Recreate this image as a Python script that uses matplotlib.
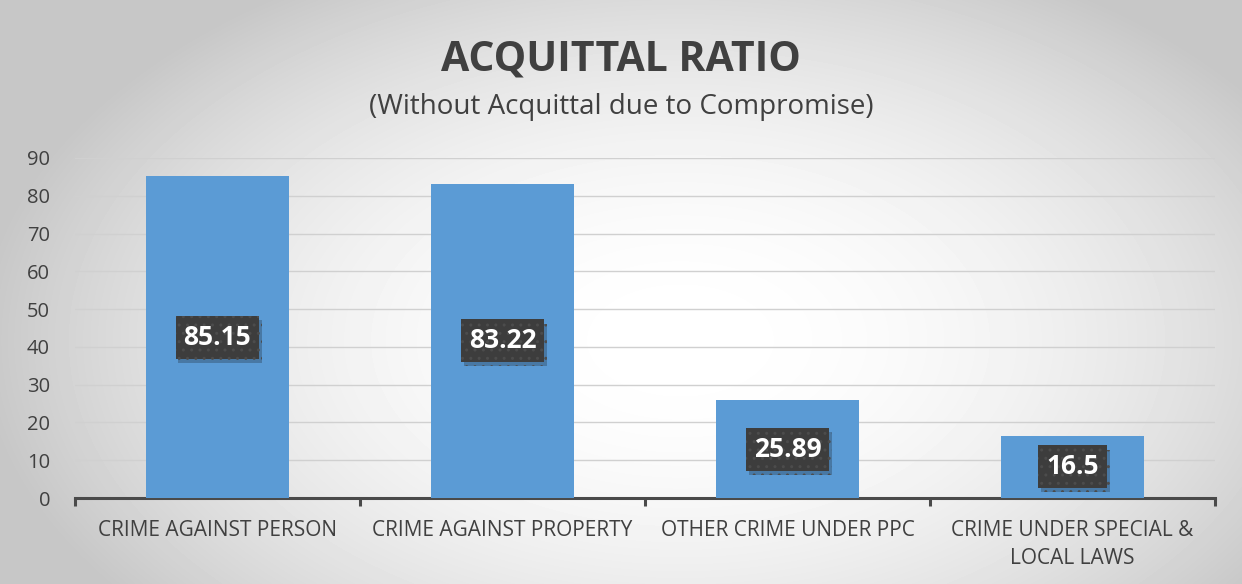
import numpy as np
import matplotlib.pyplot as plt
import matplotlib.patheffects as pe

categories = ['CRIME AGAINST PERSON', 'CRIME AGAINST PROPERTY',
              'OTHER CRIME UNDER PPC', 'CRIME UNDER SPECIAL &\nLOCAL LAWS']
values = [85.15, 83.22, 25.89, 16.5]
value_labels = ['85.15', '83.22', '25.89', '16.5']
yticks = list(range(0, 100, 10))

plt.rcParams['font.family'] = ['Open Sans', 'DejaVu Sans']

fig = plt.figure(figsize=(12.42, 5.84), dpi=100)

# radial grey background
bg = fig.add_axes([0, 0, 1, 1], zorder=-10)
yy, xx = np.mgrid[0:584, 0:1242]
d2 = ((xx - 680) / 700) ** 2 + ((yy - 340) / 420) ** 2
shade = np.clip(1.0 - 0.22 * d2, 0.78, 1.0)
bg.imshow(shade, cmap='gray', vmin=0, vmax=1, aspect='auto', extent=[0, 1, 0, 1])
bg.axis('off')

ax = fig.add_axes([75 / 1242, 1 - 498 / 584, 1140 / 1242, 340 / 584])
ax.patch.set_alpha(0)
x = np.arange(len(values))
ax.bar(x, values, width=0.5, color='#5b9bd5', zorder=3)
ax.set_xlim(-0.5, 3.5)
ax.set_ylim(0, 90)
ax.set_yticks(yticks)
ax.yaxis.grid(True, color='#d0d0d0', lw=1)
ax.set_axisbelow(True)
for s in ['top', 'right', 'left']:
    ax.spines[s].set_visible(False)
ax.spines['bottom'].set_color('#4a4a4a')
ax.spines['bottom'].set_linewidth(2.2)
ax.tick_params(axis='y', length=0, labelsize=14.5, labelcolor='#404040', pad=18)
ax.set_xticks(x)
ax.set_xticklabels(categories, fontsize=15, color='#404040', linespacing=1.45)
ax.tick_params(axis='x', length=0, pad=16)
ax.set_xticks(np.arange(-0.5, 4.0, 1.0), minor=True)
ax.tick_params(axis='x', which='minor', length=6, width=2.2, color='#4a4a4a')

for xi, v, lab in zip(x, values, value_labels):
    t = ax.text(xi, v / 2, lab, ha='center', va='center', color='white',
                fontsize=19, fontweight='bold', zorder=5,
                bbox=dict(boxstyle='square,pad=0.3', facecolor='#3d3d3d',
                          edgecolor='#4c4c4c', lw=0, hatch='..'))
    t.get_bbox_patch().set_path_effects(
        [pe.SimplePatchShadow(offset=(2, -3), alpha=0.25), pe.Normal()])

fig.text(0.5, 1 - 60 / 584, 'ACQUITTAL RATIO', ha='center', va='center',
         fontsize=29.5, fontweight='bold', color='#404040')
fig.text(0.5, 1 - 107 / 584, '(Without Acquittal due to Compromise)', ha='center',
         va='center', fontsize=20, color='#404040')

fig.savefig('out.png', dpi=100)
